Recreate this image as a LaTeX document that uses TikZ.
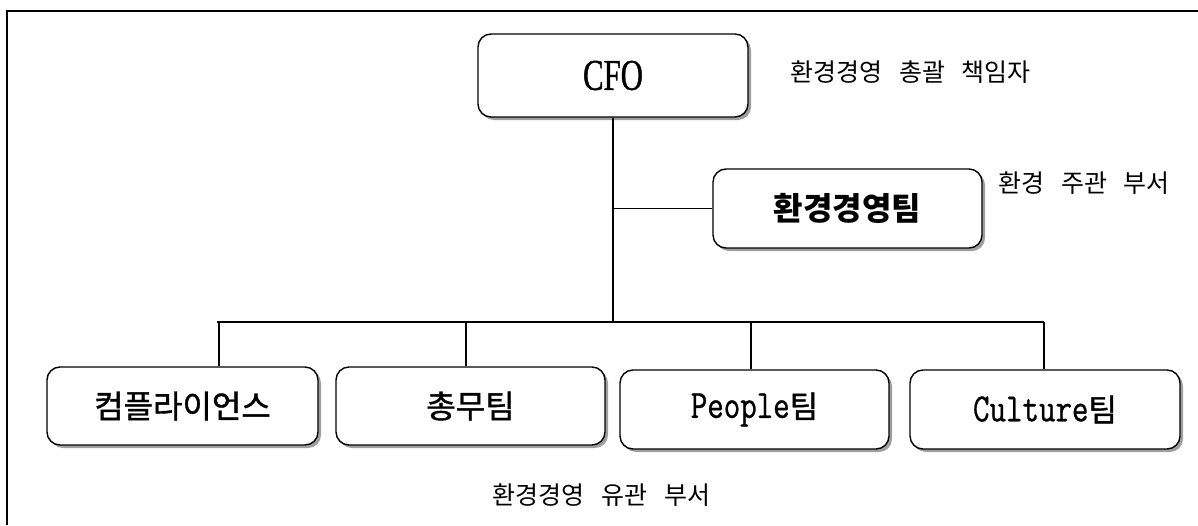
\documentclass[tikz,border=0pt]{standalone}
\usepackage{fontspec}
\setmainfont{Liberation Serif}
\newfontfamily\kr{Noto Sans CJK KR}[WordSpace=3]
\newfontfamily\krbox{Noto Sans CJK KR}[FakeBold=1.2]
\newfontfamily\cfofont{Liberation Serif}[FakeStretch=0.7,FakeBold=0.8]
\newfontfamily\latinteam{Latin Modern Mono}[FakeStretch=0.8,FakeBold=0.8]
\usetikzlibrary{shadows}

\begin{document}
\begin{tikzpicture}[x=1pt,y=-1pt,
    unit/.style={draw,line width=1.4pt,rounded corners=13pt,fill=white,inner sep=0pt,
      drop shadow={shadow xshift=3pt,shadow yshift=-3pt,fill=gray!75,opacity=1}},
    note/.style={inner sep=0pt,font=\kr\fontsize{25}{28}\selectfont},
    boxtext/.style={font=\krbox\fontsize{32}{35}\selectfont},
    link/.style={line width=2.4pt}]
    \useasboundingbox (0,0) rectangle (1198,525);
    % frame
    \draw[line width=1.4pt] (7,525) -- (7,11) -- (1198,11);
    % boxes
    \node[unit,minimum width=270pt,minimum height=83pt] at (613,75.5) (CFO)
      {\cfofont\fontsize{44}{46}\selectfont CFO};
    \node[unit,minimum width=269pt,minimum height=79pt,
      font=\kr\bfseries\fontsize{32}{35}\selectfont] at (847.5,208.5) (ENV) {환경경영팀};
    \node[unit,boxtext,minimum width=271pt,minimum height=78pt] at (182.5,406) (COMP) {컴플라이언스};
    \node[unit,boxtext,minimum width=269pt,minimum height=78pt] at (470.5,406) (GA) {총무팀};
    \node[unit,minimum width=269pt,minimum height=79pt] at (754.5,409.5) (PPL)
      {{\latinteam\fontsize{40}{42}\selectfont People}{\krbox\fontsize{31}{34}\selectfont 팀}};
    \node[unit,minimum width=270pt,minimum height=79pt] at (1045,409.5) (CUL)
      {{\latinteam\fontsize{40}{42}\selectfont Culture}{\krbox\fontsize{31}{34}\selectfont 팀}};
    % labels
    \node[note,anchor=west] at (790,72) (CFOnote) {환경경영 총괄 책임자};
    \node[note,anchor=west] at (998,183) (ENVnote) {환경 주관 부서};
    \node[note] at (601.5,495) (RELnote) {환경경영 유관 부서};
    % bus
    \coordinate (BW) at (217,322);
    \coordinate (BE) at (1044,322);
    \coordinate (D1) at (219,322);
    \coordinate (D2) at (466,322);
    \coordinate (D3) at (751,322);
    \coordinate (D4) at (1044,322);
    \draw[link] (CFO.south) -- (CFO.south |- BW);
    \draw[line width=1.6pt] (CFO.south |- ENV.west) -- (ENV.west);
    \draw[link] (BW) -- (BE);
    \draw[link] (D1) -- (D1 |- COMP.north);
    \draw[link] (D2) -- (D2 |- GA.north);
    \draw[link] (D3) -- (D3 |- PPL.north);
    \draw[link] (D4) -- (D4 |- CUL.north);
\end{tikzpicture}
\end{document}
